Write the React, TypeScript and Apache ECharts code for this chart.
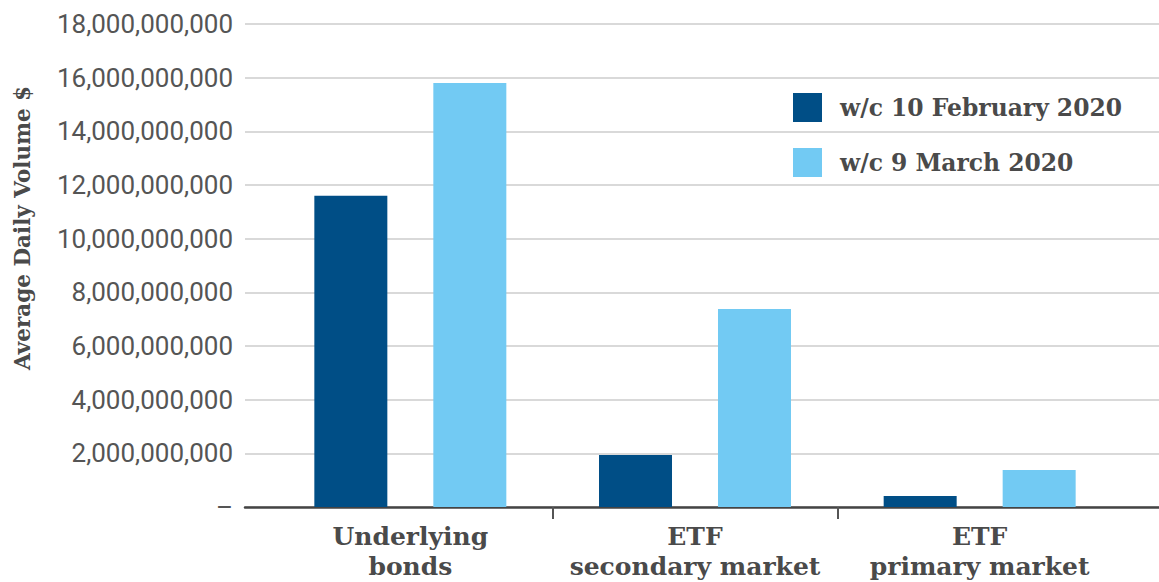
import React, { useEffect, useRef } from "react";
import * as echarts from "echarts";

const categories = ["Underlying\nbonds", "ETF\nsecondary market", "ETF\nprimary market"];
const seriesNames = ["w/c 10 February 2020", "w/c 9 March 2020"];
const febValues = [11.6e9, 1.94e9, 0.41e9];
const marValues = [15.8e9, 7.38e9, 1.38e9];
const yMin = 0;
const yMax = 18e9;
const yInterval = 2e9;
const yAxisTitle = "Average Daily Volume $";
const boundaryTicks = [1, 2];

const DARK = "#004e86";
const LIGHT = "#72caf3";
const TEXT = "#4a4a4a";
const SERIF = "'DejaVu Serif', serif";

export default function App() {
  const ref = useRef<HTMLDivElement>(null);
  useEffect(() => {
    if (!ref.current) return;
    const chart = echarts.init(ref.current, null, { renderer: "svg" });
    const g0Left = 245, g0Right = 0;
    const g1Left = 268, g1Right = 37;
    const W = 1159;
    const catW = (W - g1Right - g1Left) / categories.length;
    const xMin = -(g1Left - g0Left) / catW;
    const xMax = xMin + (W - g0Right - g0Left) / catW;
    chart.setOption({
      animation: false,
      grid: [
        { left: g0Left, right: g0Right, top: 24, bottom: 75 },
        { left: g1Left, right: g1Right, top: 24, bottom: 75 },
      ],
      legend: {
        orient: "vertical",
        left: 793,
        top: 93,
        padding: 0,
        itemWidth: 29,
        itemHeight: 29,
        itemGap: 26,
        icon: "rect",
        textStyle: {
          fontFamily: SERIF,
          fontWeight: "bold",
          fontSize: 23.4,
          color: TEXT,
          padding: [0, 0, 0, 13],
        },
        data: seriesNames,
      },
      xAxis: [
        {
          type: "value",
          gridIndex: 0,
          min: xMin,
          max: xMax,
          splitLine: { show: false },
          axisLabel: { show: false },
          axisLine: { show: true, lineStyle: { color: "#444", width: 2.5 } },
          axisTick: {
            show: true,
            length: 12,
            customValues: boundaryTicks,
            lineStyle: { color: "#555", width: 2 },
          },
        },
        {
          type: "category",
          gridIndex: 1,
          data: categories,
          axisLine: { show: false },
          axisTick: { show: false },
          axisLabel: {
            interval: 0,
            margin: 14,
            fontFamily: SERIF,
            fontWeight: "bold",
            fontSize: 25,
            lineHeight: 30,
            color: TEXT,
          },
        },
      ],
      yAxis: [
        {
          type: "value",
          gridIndex: 0,
          min: yMin,
          max: yMax,
          interval: yInterval,
          axisLine: { show: false },
          axisTick: { show: false },
          splitLine: { lineStyle: { color: "#cccccc", width: 1.5 } },
          axisLabel: {
            margin: 12,
            fontFamily: "Roboto",
            fontSize: 26,
            color: "#555",
            formatter: (v: number) => (v === 0 ? "–" : v.toLocaleString("en-US")),
          },
        },
        {
          type: "value",
          gridIndex: 1,
          min: yMin,
          max: yMax,
          interval: yInterval,
          show: false,
          splitLine: { show: false },
        },
      ],
      series: [
        {
          name: seriesNames[0],
          type: "bar",
          xAxisIndex: 1,
          yAxisIndex: 1,
          data: febValues,
          barWidth: 73,
          barGap: "63%",
          itemStyle: { color: DARK },
        },
        {
          name: seriesNames[1],
          type: "bar",
          xAxisIndex: 1,
          yAxisIndex: 1,
          data: marValues,
          barWidth: 73,
          barGap: "63%",
          itemStyle: { color: LIGHT },
        },
      ],
      graphic: [
        {
          type: "text",
          x: 22,
          y: 228,
          rotation: Math.PI / 2,
          style: {
            text: yAxisTitle,
            fontFamily: SERIF,
            fontWeight: "bold",
            fontSize: 21.5,
            fill: TEXT,
            align: "center",
            verticalAlign: "middle",
          },
        },
      ],
    });
    return () => chart.dispose();
  }, []);
  return (
    <div
      ref={ref}
      style={{ position: "fixed", left: 0, top: 0, width: 1159, height: 582, background: "#fff" }}
    />
  );
}
